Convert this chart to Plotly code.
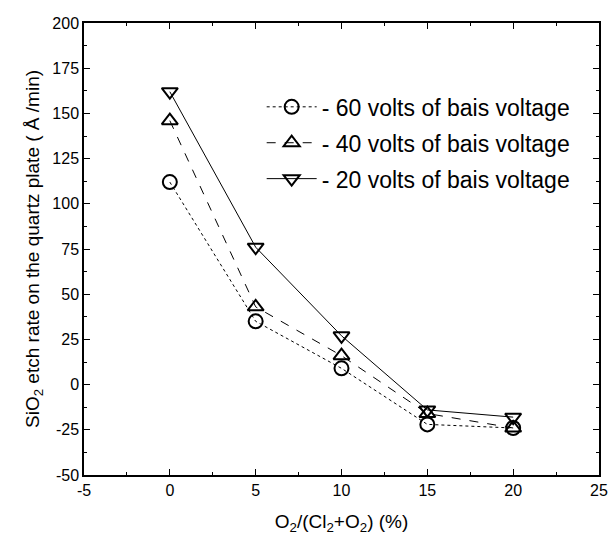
import plotly.graph_objects as go

x_vals = [0, 5, 10, 15, 20]
v60 = [112, 35, 9, -22, -24]
v40 = [146, 43, 16, -16, -24]
v20 = [162, 76, 27, -14, -18]
names = ["- 60 volts of bais voltage", "- 40 volts of bais voltage", "- 20 volts of bais voltage"]
x_ticks = [-5, 0, 5, 10, 15, 20, 25]
x_ticktext = ["-5", "0", "5", "10", "15", "20", "25"]
y_ticks = [-50, -25, 0, 25, 50, 75, 100, 125, 150, 175, 200]
y_ticktext = ["-50", "-25", "0", "25", "50", "75", "100", "125", "150", "175", "200"]

FONT = "Liberation Sans, Arial"
fig = go.Figure()
styles = [("circle-open", "dot", v60), ("triangle-up-open", "dash", v40), ("triangle-down-open", "solid", v20)]
for i, (name, (sym, dash, ys)) in enumerate(zip(names, styles)):
    fig.add_trace(go.Scatter(
        x=x_vals, y=ys, name=name, mode="lines+markers", legendgroup=f"g{i}",
        line=dict(color="black", width=1, dash=dash),
        marker=dict(symbol=sym, size=14, color="black", line=dict(width=2, color="black")),
    ))

axis_common = dict(
    showline=True, linecolor="black", linewidth=1.5, mirror="ticks",
    ticks="inside", ticklen=6, tickcolor="black", showgrid=False, zeroline=False,
    tickfont=dict(family=FONT, size=16, color="black"), automargin=False,
    minor=dict(ticks="inside", ticklen=3, tickcolor="black"),
)
fig.update_xaxes(range=[-5, 25], tickvals=x_ticks, ticktext=x_ticktext, minor_dtick=2.5, minor_tick0=0,
                 title=dict(text="O<sub>2</sub>/(Cl<sub>2</sub>+O<sub>2</sub>) (%)",
                            font=dict(family=FONT, size=19, color="black"), standoff=22),
                 **axis_common)
fig.update_yaxes(range=[-50, 200], tickvals=y_ticks, ticktext=y_ticktext, minor_dtick=12.5, minor_tick0=0,
                 title=dict(text="SiO<sub>2</sub> etch rate on the quartz plate ( Å /min)",
                            font=dict(family=FONT, size=19, color="black"), standoff=8),
                 **axis_common)
fig.update_layout(
    width=608, height=535,
    margin=dict(l=84, r=9, t=23, b=60),
    plot_bgcolor="white", paper_bgcolor="white",
    font=dict(family=FONT, color="black"),
    legend=dict(x=0.345, y=0.862, xanchor="left", yanchor="top", bgcolor="rgba(0,0,0,0)",
                font=dict(size=23, color="black"), itemwidth=50, tracegroupgap=3),
)
fig.write_html("out.html", config={"displayModeBar": False},
               post_script="document.body.style.margin='0';")
